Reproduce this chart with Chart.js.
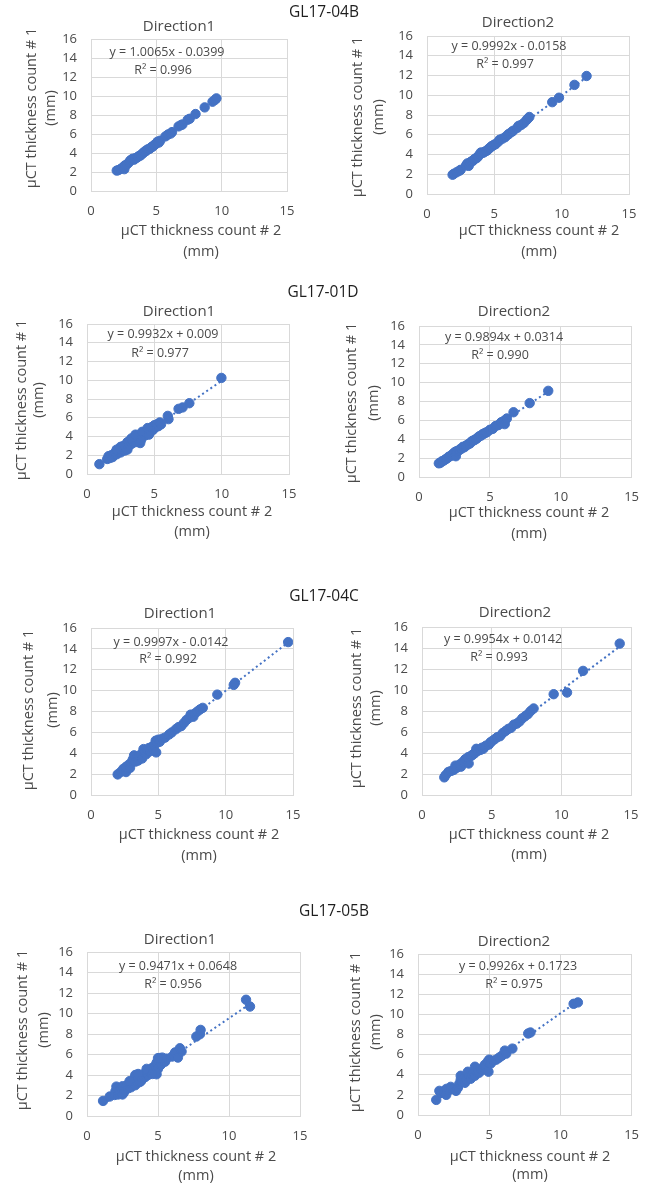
<!DOCTYPE html>
<html>
<head>
<meta charset="utf-8">
<script src="https://cdn.jsdelivr.net/npm/chart.js@4.4.1/dist/chart.umd.min.js"></script>
<style>
html,body{margin:0;padding:0;background:#fff;width:651px;height:1186px;overflow:hidden;position:relative}
canvas{position:absolute;left:0;top:0}
</style>
</head>
<body>
<script>
// ---------- data ----------
const samples = ['GL17-04B', 'GL17-01D', 'GL17-04C', 'GL17-05B'];
const directions = ['Direction1', 'Direction2'];
const xTitle = ['μCT thickness count # 2', '(mm)'];
const yTitle = ['μCT thickness count # 1', '(mm)'];
const xTicks = [0, 5, 10, 15];
const yTicks = [0, 2, 4, 6, 8, 10, 12, 14, 16];

// regression equations shown on each panel (order: 04B D1, 04B D2, 01D D1, 01D D2, 04C D1, 04C D2, 05B D1, 05B D2)
const slopes     = [1.0065, 0.9992, 0.9932, 0.9894, 0.9997, 0.9954, 0.9471, 0.9926];
const intercepts = [-0.0399, -0.0158, 0.009, 0.0314, -0.0142, 0.0142, 0.0648, 0.1723];
const rSquared   = [0.996, 0.997, 0.977, 0.990, 0.992, 0.993, 0.956, 0.975];

// GL17-04B Direction1
const b04_d1_x = [1.97,2.1,2.3,2.45,2.55,2.6,2.75,2.9,3.0,3.1,3.2,3.3,3.4,3.5,3.6,3.7,3.8,3.9,4.0,4.1,4.2,4.3,4.4,4.5,4.6,4.7,4.8,4.9,5.0,5.1,5.2,5.3,5.7,5.9,6.1,6.2,6.7,6.9,7.0,7.4,7.55,8.0,8.7,9.3,9.5,9.6];
const b04_d1_y = [2.15,2.2,2.35,2.5,2.3,2.7,2.8,3.0,3.2,3.3,3.4,3.3,3.45,3.5,3.6,3.7,3.75,3.9,4.0,4.15,4.2,4.35,4.4,4.45,4.6,4.65,4.8,4.9,5.0,5.2,5.1,5.3,5.75,5.95,6.05,6.2,6.8,6.95,7.0,7.5,7.6,8.1,8.8,9.4,9.6,9.75];
// GL17-04B Direction2
const b04_d2_x = [1.9,2.0,2.2,2.4,2.5,2.9,3.0,3.1,3.2,3.3,3.4,3.5,3.6,3.7,3.8,3.9,4.0,4.1,4.2,4.3,4.4,4.5,4.6,4.7,4.8,4.9,5.0,5.1,5.3,5.4,5.6,5.8,6.0,6.1,6.3,6.4,6.7,6.8,7.0,7.2,7.4,7.5,7.6,9.3,9.8,10.95,11.85];
const b04_d2_y = [1.95,2.05,2.2,2.35,2.45,2.9,3.1,2.85,3.2,3.3,3.35,3.5,3.6,3.65,3.8,4.0,4.2,4.15,4.2,4.3,4.35,4.45,4.6,4.7,4.85,4.9,5.0,5.05,5.3,5.5,5.6,5.75,6.0,6.1,6.3,6.4,6.7,6.9,7.0,7.2,7.5,7.65,7.8,9.3,9.75,11.05,11.95];
// GL17-01D Direction1
const d01_d1_x = [0.92,1.5,1.6,1.7,1.8,1.9,2.0,2.1,2.2,2.3,2.4,2.5,2.6,2.7,2.7,2.8,2.9,3.0,3.0,3.1,3.2,3.3,3.4,3.5,3.6,3.7,3.8,3.9,3.95,4.0,4.2,4.3,4.4,4.5,4.6,4.7,4.8,4.9,5.0,5.1,5.2,5.3,5.4,5.5,6.0,6.05,6.8,7.1,7.6,9.98,2.5,3.3,3.6,4.1,4.5,2.2,4.0,3.0,4.6];
const d01_d1_y = [1.05,1.6,1.9,1.7,2.0,1.8,2.1,2.3,2.1,2.4,2.6,2.3,2.8,2.6,3.0,2.5,3.1,2.8,3.4,3.0,3.6,3.2,3.5,3.8,3.4,4.1,3.7,3.9,3.3,4.0,4.3,4.1,4.6,4.4,4.8,4.6,5.0,4.7,5.2,5.0,5.3,5.1,5.5,5.3,6.2,5.85,6.95,7.1,7.55,10.25,2.9,3.8,4.2,4.5,4.9,2.6,3.6,2.6,4.2];
// GL17-01D Direction2
const d01_d2_x = [1.4,1.5,1.6,1.7,1.8,1.9,2.0,2.1,2.2,2.3,2.4,2.5,2.6,2.6,2.7,2.8,2.9,3.0,3.1,3.2,3.3,3.4,3.5,3.6,3.7,3.8,3.9,4.0,4.1,4.2,4.3,4.4,4.5,4.6,4.7,4.8,5.0,5.2,5.4,5.6,5.8,6.0,6.05,6.2,6.67,7.81,9.12];
const d01_d2_y = [1.45,1.5,1.65,1.7,1.8,1.9,2.0,2.15,2.2,2.3,2.45,2.6,2.2,2.7,2.75,2.8,2.95,3.0,3.2,3.15,3.3,3.4,3.5,3.55,3.75,3.85,3.9,4.0,4.1,4.25,4.35,4.4,4.55,4.6,4.7,4.75,5.0,5.1,5.4,5.5,5.8,5.95,5.6,6.2,6.86,7.83,9.13];
// GL17-04C Direction1
const c04_d1_x = [1.98,2.2,2.4,2.6,2.6,2.8,2.9,3.0,3.1,3.2,3.3,3.4,3.5,3.6,3.7,3.8,3.9,4.0,4.1,4.2,4.3,4.4,4.5,4.6,4.7,4.84,4.8,4.9,5.0,5.1,5.3,5.5,5.8,6.0,6.3,6.5,6.7,6.9,7.1,7.3,7.4,7.6,7.7,7.9,8.1,8.3,9.38,10.6,10.7,14.64];
const c04_d1_y = [1.97,2.2,2.5,2.2,2.7,2.9,2.6,3.1,3.4,3.8,3.2,3.5,3.3,3.7,3.9,3.5,4.4,4.0,3.9,4.3,4.5,4.2,4.6,4.4,4.8,4.08,5.2,5.0,5.3,5.1,5.4,5.5,5.8,6.0,6.3,6.5,6.6,6.9,7.2,7.4,7.7,7.5,7.8,8.0,8.2,8.35,9.62,10.55,10.75,14.65];
// GL17-04C Direction2
const c04_d2_x = [1.6,1.7,1.9,2.1,2.3,2.4,2.5,2.7,2.8,2.9,3.0,3.1,3.2,3.35,3.3,3.5,3.6,3.7,3.8,3.9,4.0,4.2,4.3,4.4,4.5,4.6,4.8,4.9,5.0,5.2,5.4,5.6,5.8,6.0,6.2,6.4,6.6,6.8,7.0,7.2,7.4,7.6,7.8,8.01,9.45,10.41,11.56,14.19];
const c04_d2_y = [1.68,1.9,2.2,2.3,2.4,2.8,2.6,2.9,2.7,3.1,3.2,3.4,3.3,3.0,3.6,3.7,3.8,3.9,4.0,4.4,4.2,4.3,4.5,4.4,4.6,4.7,4.8,5.0,5.1,5.3,5.5,5.6,5.9,6.1,6.3,6.4,6.7,6.8,7.0,7.3,7.5,7.7,8.0,8.24,9.6,9.76,11.82,14.42];
// GL17-05B Direction1
const b05_d1_x = [1.13,1.6,1.95,2.0,2.07,2.2,2.3,2.4,2.5,2.6,2.7,2.8,2.9,3.0,3.1,3.2,3.3,3.4,3.4,3.5,3.6,3.7,3.8,3.9,4.0,4.1,4.2,4.3,4.4,4.5,4.6,4.7,4.8,4.9,4.9,5.0,5.1,5.2,5.3,5.5,5.6,6.0,6.2,6.4,6.54,6.66,7.7,7.95,8.0,11.2,11.48,3.0,3.6,4.2,2.5,3.8,4.6,5.3,5.0];
const b05_d1_y = [1.47,1.9,2.05,2.4,2.87,2.1,2.5,2.7,2.9,2.3,2.6,3.0,2.7,3.1,2.8,3.3,3.6,4.0,3.0,3.4,3.7,3.3,3.9,3.6,4.1,3.8,4.3,4.0,4.5,4.2,4.7,4.4,4.9,4.07,5.2,4.6,5.65,5.0,5.4,5.3,5.6,5.8,6.2,5.7,6.61,6.29,7.75,7.98,8.4,11.34,10.68,3.4,4.1,4.6,2.1,3.4,4.1,5.7,5.65];
// GL17-05B Direction2
const b05_d2_x = [1.28,1.5,1.6,1.8,1.98,2.0,2.2,2.3,2.5,2.67,2.8,2.9,3.0,3.0,3.1,3.2,3.3,3.4,3.5,3.6,3.7,3.8,3.9,4.0,4.0,4.2,4.3,4.4,4.5,4.6,4.7,4.8,4.95,4.9,5.0,5.1,5.3,5.5,5.7,5.9,6.1,6.2,6.63,7.74,7.9,10.93,11.23];
const b05_d2_y = [1.5,2.4,2.2,2.3,2.0,2.6,2.5,2.8,2.6,2.4,2.7,3.1,3.5,3.9,3.3,3.6,3.2,3.5,4.3,3.8,3.6,4.0,4.2,4.8,3.9,4.4,4.2,4.6,4.5,4.7,5.0,4.8,4.3,5.3,5.5,5.1,5.4,5.5,5.7,5.9,6.4,6.1,6.6,8.1,8.2,11.05,11.19];

const seriesX = [b04_d1_x, b04_d2_x, d01_d1_x, d01_d2_x, c04_d1_x, c04_d2_x, b05_d1_x, b05_d2_x];
const seriesY = [b04_d1_y, b04_d2_y, d01_d1_y, d01_d2_y, c04_d1_y, c04_d2_y, b05_d1_y, b05_d2_y];

// ---------- layout (page pixels) ----------
const PAGE_W = 651, PAGE_H = 1186;
const plotRects = [ // [left, right, top, bottom]
  [91, 287, 39, 191], [427, 629, 36, 194],
  [87, 289, 324, 474], [419, 632, 326, 477],
  [91, 293, 628, 795], [422, 631, 627, 795],
  [87, 300, 952, 1116], [418, 633, 954, 1115]
];
const titlePos = [[179,27],[518,23],[179,312],[514,312],[180,614],[515,613],[180,940],[514,942]];
const yTitlePos = [[32,51,108],[358,379,117],[22,39,400],[352,374,403],[29,53,710],[357,376,708],[23,44,1030],[356,376,1032]];
const xTitlePos = [[201,231,252],[539,231,252],[192,512,532],[529,513,534],[199,835,856],[529,835,855],[196,1157,1176],[530,1157,1175]];
const eqPos = [[167,52,163,70],[509,46,505,64],[163,334,160,353],[504,337,500,355],[171,642,168,659],[503,639,499,657],[178,966,173,984],[518,966,514,984]];
const headerPos = [[324,13],[323,293],[324,597],[334,912]];

const BLUE = '#4472C4';
const TEXT = '#4A4A4A';
const GRID = '#D9D9D9';
const FONT = "'Open Sans', 'Noto Sans', sans-serif";

const textPlugin = {
  id: 'panelTexts',
  afterDraw(chart, args, opts) {
    const ctx = chart.ctx;
    (opts.items || []).forEach(it => {
      ctx.save();
      ctx.font = it.font;
      ctx.fillStyle = it.color;
      ctx.textAlign = 'center';
      ctx.textBaseline = 'middle';
      ctx.translate(it.x, it.y);
      if (it.rot) ctx.rotate(-Math.PI / 2);
      ctx.fillText(it.text, 0, 0);
      ctx.restore();
    });
  }
};

function eqText(i) {
  const b = intercepts[i];
  return 'y = ' + slopes[i] + 'x ' + (b < 0 ? '- ' : '+ ') + Math.abs(b);
}

for (let i = 0; i < 8; i++) {
  const [L, R, T, B] = plotRects[i];
  const cv = document.createElement('canvas');
  cv.width = PAGE_W; cv.height = PAGE_H;
  document.body.appendChild(cv);

  const xs = seriesX[i], ys = seriesY[i];
  const pts = xs.map((x, k) => ({x: x, y: ys[k]}));
  const minX = Math.min(...xs), maxX = Math.max(...xs);
  const trend = [minX, maxX].map(x => ({x: x, y: slopes[i] * x + intercepts[i]}));

  const items = [];
  items.push({text: directions[i % 2], x: titlePos[i][0], y: titlePos[i][1], font: `15px ${FONT}`, color: TEXT});
  items.push({text: yTitle[0], x: yTitlePos[i][0], y: yTitlePos[i][2], rot: true, font: `14.5px ${FONT}`, color: TEXT});
  items.push({text: yTitle[1], x: yTitlePos[i][1], y: yTitlePos[i][2], rot: true, font: `14.5px ${FONT}`, color: TEXT});
  items.push({text: xTitle[0], x: xTitlePos[i][0], y: xTitlePos[i][1], font: `14.5px ${FONT}`, color: TEXT});
  items.push({text: xTitle[1], x: xTitlePos[i][0], y: xTitlePos[i][2], font: `14.5px ${FONT}`, color: TEXT});
  items.push({text: eqText(i), x: eqPos[i][0], y: eqPos[i][1], font: `12.5px ${FONT}`, color: TEXT});
  items.push({text: 'R² = ' + rSquared[i].toFixed(3), x: eqPos[i][2], y: eqPos[i][3], font: `12.5px ${FONT}`, color: TEXT});
  if (i % 2 === 0) {
    const h = headerPos[i / 2];
    items.push({text: samples[i / 2], x: h[0], y: h[1], font: `15.5px ${FONT}`, color: '#1E1E1E'});
  }

  const YW = 50, XH = 40;
  new Chart(cv, {
    type: 'scatter',
    data: {
      datasets: [
        {data: pts, backgroundColor: BLUE, borderColor: BLUE, borderWidth: 1, pointRadius: 4.7, order: 2},
        {data: trend, showLine: true, borderColor: BLUE, borderWidth: 2, borderDash: [2, 3], pointRadius: 0, fill: false, order: 1}
      ]
    },
    options: {
      responsive: false,
      animation: false,
      events: [],
      layout: {padding: {left: L - YW, right: PAGE_W - R, top: T, bottom: PAGE_H - B - XH}},
      plugins: {
        legend: {display: false},
        tooltip: {enabled: false},
        title: {display: false},
        panelTexts: {items: items}
      },
      scales: {
        x: {
          type: 'linear', min: xTicks[0], max: xTicks[xTicks.length - 1],
          afterBuildTicks: s => { s.ticks = xTicks.map(v => ({value: v})); },
          afterFit: s => { s.height = XH; },
          ticks: {padding: 12, color: TEXT, font: {family: FONT, size: 13}},
          grid: {color: GRID, lineWidth: 1, drawTicks: false},
          border: {color: GRID, width: 1}
        },
        y: {
          type: 'linear', min: yTicks[0], max: yTicks[yTicks.length - 1],
          afterBuildTicks: s => { s.ticks = yTicks.map(v => ({value: v})); },
          afterFit: s => { s.width = YW; },
          ticks: {padding: 14, color: TEXT, font: {family: FONT, size: 13}},
          grid: {color: GRID, lineWidth: 1, drawTicks: false},
          border: {color: GRID, width: 1}
        }
      }
    },
    plugins: [textPlugin]
  });
}
</script>
</body>
</html>
